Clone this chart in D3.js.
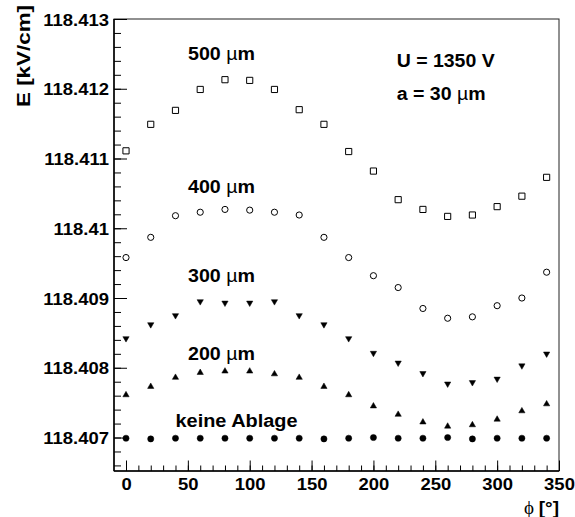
<!DOCTYPE html>
<html><head><meta charset="utf-8">
<script src="https://cdn.jsdelivr.net/npm/d3@7"></script>
<style>body{margin:0;background:#fff}svg{display:block}text{font-family:"Liberation Sans",Arial,sans-serif;font-weight:bold;fill:#000}</style>
</head><body>
<svg id="c" width="575" height="517"></svg>
<script>
const phi = [0,20,40,60,80,100,120,140,160,180,200,220,240,260,280,300,320,340];
const e500 = [118.41111,118.41149,118.41169,118.41199,118.41213,118.41212,118.41199,118.41170,118.41149,118.41110,118.41082,118.41041,118.41027,118.41017,118.41019,118.41031,118.41046,118.41073];
const e400 = [118.40958,118.40987,118.41018,118.41023,118.41027,118.41026,118.41023,118.41019,118.40987,118.40958,118.40932,118.40915,118.40885,118.40871,118.40873,118.40889,118.40900,118.40937];
const e300 = [118.40842,118.40862,118.40875,118.40895,118.40893,118.40893,118.40895,118.40875,118.40862,118.40842,118.40821,118.40807,118.40792,118.40777,118.40779,118.40784,118.40803,118.40820];
const e200 = [118.40761,118.40773,118.40786,118.40793,118.40795,118.40795,118.40791,118.40786,118.40773,118.40761,118.40745,118.40733,118.40722,118.40716,118.40718,118.40726,118.40738,118.40748];
const e0   = [118.40699,118.40698,118.40699,118.40699,118.40699,118.40699,118.40699,118.40699,118.40698,118.40699,118.40700,118.40699,118.40699,118.40700,118.40698,118.40699,118.40699,118.40699];
const xTicks = [0,50,100,150,200,250,300,350];
const yTicks = [118.407,118.408,118.409,118.410,118.411,118.412,118.413];
const yTickLabels = ["118.407","118.408","118.409","118.41","118.411","118.412","118.413"];

const L=114,R=559,T=19,B=471;
const svg=d3.select("#c");
const x=d3.scaleLinear().domain([-9.7,350]).range([L,R]);
const y=d3.scaleLinear().domain([118.40652,118.413]).range([B,T]);

// frame
svg.append("rect").attr("x",L).attr("y",T).attr("width",R-L).attr("height",B-T)
  .attr("fill","none").attr("stroke","#222").attr("stroke-width",1);

function stretch(sel,f){sel.each(function(){const w=this.getComputedTextLength();this.setAttribute("textLength",w*f);this.setAttribute("lengthAdjust","spacingAndGlyphs");});}

// y minor ticks
const yMinor=d3.range(0,33).map(i=>118.4066+i*0.0002).filter(v=>v>=118.40652&&v<=118.413);
svg.append("g").attr("transform",`translate(${L},0)`)
  .call(d3.axisLeft(y).tickValues(yMinor).tickSize(-7).tickFormat(""))
  .call(g=>g.select(".domain").remove())
  .call(g=>g.selectAll("line").attr("stroke","#000"));
const gy=svg.append("g").attr("transform",`translate(${L},0)`)
  .call(d3.axisLeft(y).tickValues(yTicks).tickSize(-13).tickPadding(5).tickFormat((d,i)=>yTickLabels[i]))
  .call(g=>g.select(".domain").attr("stroke","#000").attr("stroke-width",1.5).attr("d",`M0,${T}V${B}`));
gy.selectAll("line").attr("stroke","#000");
gy.selectAll("text").attr("font-size",17).attr("font-family","Liberation Sans").attr("font-weight","bold").attr("dy","0.36em");
stretch(gy.selectAll("text"),1.085);

// x minor ticks
const xMinor=d3.range(-0,351,10);
svg.append("g").attr("transform",`translate(0,${B})`)
  .call(d3.axisBottom(x).tickValues(xMinor).tickSize(-5.5).tickFormat(""))
  .call(g=>g.select(".domain").remove())
  .call(g=>g.selectAll("line").attr("stroke","#000"));
const gx=svg.append("g").attr("transform",`translate(0,${B})`)
  .call(d3.axisBottom(x).tickValues(xTicks).tickSize(-10.5).tickPadding(7).tickFormat(d3.format("d")))
  .call(g=>g.select(".domain").attr("stroke","#000").attr("stroke-width",1.5).attr("d",`M${L},0H${R}`));
gx.selectAll("line").attr("stroke","#000");
gx.selectAll("text").attr("font-size",17).attr("font-family","Liberation Sans").attr("font-weight","bold");
stretch(gx.selectAll("text"),1.085);

// markers
function plot(vals,type,size,fill,rot){
  svg.append("g").selectAll("path").data(vals).join("path")
    .attr("d",d3.symbol().type(type).size(size))
    .attr("transform",(d,i)=>`translate(${x(phi[i])},${y(d)})`+(rot?" rotate(180)":""))
    .attr("fill",fill?"#000":"none").attr("stroke","#000").attr("stroke-width",fill?0.5:1);
}
plot(e500,d3.symbolSquare,38,false);
plot(e400,d3.symbolCircle,30,false);
plot(e300,d3.symbolTriangle,17,true,true);
plot(e200,d3.symbolTriangle,17,true,false);
plot(e0,d3.symbolCircle,30,true);

// labels
function label(x0,yb,w,parts){
  const t=svg.append("text").attr("x",x0).attr("y",yb).attr("font-size",18);
  parts.forEach(p=>{const s=t.append("tspan").text(p[0]); if(p[1]) s.attr("font-weight","normal");});
  t.attr("textLength",w).attr("lengthAdjust","spacingAndGlyphs");
}
label(188,60,67,[["500 "],["µ",1],["m"]]);
label(188,192.7,67,[["400 "],["µ",1],["m"]]);
label(188,282.3,67,[["300 "],["µ",1],["m"]]);
label(188,360,67,[["200 "],["µ",1],["m"]]);
label(175.5,427.3,122,[["keine Ablage"]]);
label(396.7,66.7,98,[["U = 1350 V"]]);
label(396.7,100,89,[["a = 30 "],["µ",1],["m"]]);

// axis titles
svg.append("text").attr("transform","translate(30,107) rotate(-90)").attr("font-size",18)
  .attr("textLength",102).attr("lengthAdjust","spacingAndGlyphs").text("E [kV/cm]");
const xt=svg.append("text").attr("x",559).attr("y",514).attr("text-anchor","end").attr("font-size",19);
xt.append("tspan").attr("font-family","Liberation Serif").attr("font-weight","normal").text("ϕ ");
xt.append("tspan").text("[°]");
</script>
</body></html>
